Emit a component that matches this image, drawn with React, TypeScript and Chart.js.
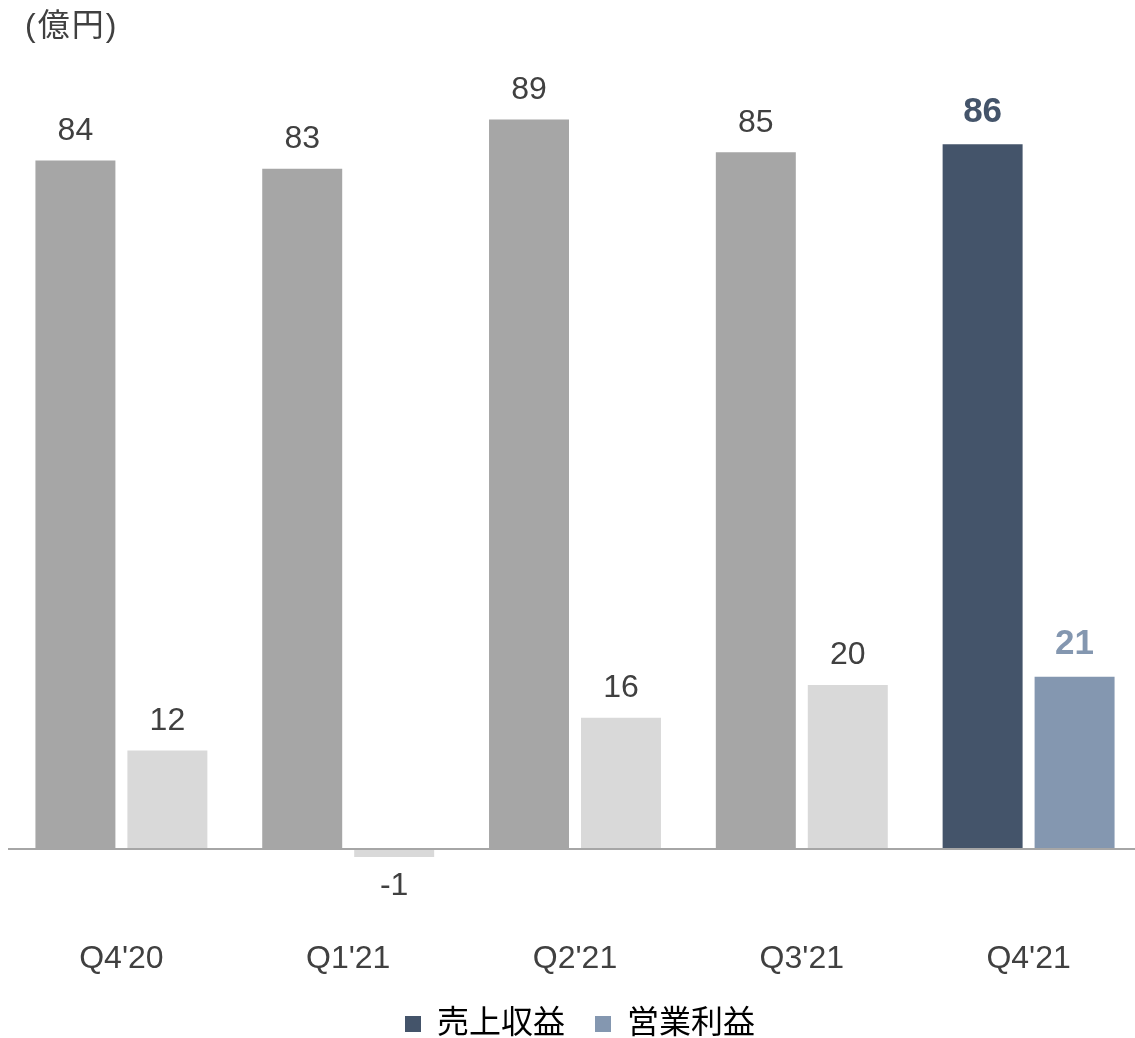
import { useEffect, useRef } from "react";
import { Chart, registerables } from "chart.js";

Chart.register(...registerables);

const categories = ["Q4'20", "Q1'21", "Q2'21", "Q3'21", "Q4'21"];
const revenue = [84, 83, 89, 85, 86];
const operatingProfit = [12, -1, 16, 20, 21];
const seriesNames = ["売上収益", "営業利益"];
const unitLabel = "(億円)";

const FONT = "'Liberation Sans', 'Noto Sans CJK JP', Arial, sans-serif";
const TEXT = "#404040";
const REV_GRAY = "#a6a6a6";
const PROF_GRAY = "#d9d9d9";
const REV_HI = "#44546a";
const PROF_HI = "#8497b0";
const AXIS = "#a6a6a6";

const W = 1152;
const H = 1050;

const hiIndex = categories.length - 1;

const overlayPlugin = {
  id: "overlay",
  afterDatasetsDraw(chart: any) {
    const ctx = chart.ctx;
    const area = chart.chartArea;
    const y0 = chart.scales.y.getPixelForValue(0);
    ctx.save();
    // zero line
    ctx.strokeStyle = AXIS;
    ctx.lineWidth = 2;
    ctx.beginPath();
    ctx.moveTo(area.left, y0);
    ctx.lineTo(area.right, y0);
    ctx.stroke();

    // value labels
    ctx.textAlign = "center";
    ctx.textBaseline = "middle";
    chart.data.datasets.forEach((ds: any, di: number) => {
      const meta = chart.getDatasetMeta(di);
      meta.data.forEach((bar: any, i: number) => {
        const v = ds.data[i];
        const hi = i === hiIndex;
        ctx.font = hi ? `bold 35px ${FONT}` : `32px ${FONT}`;
        ctx.fillStyle = hi ? (di === 0 ? REV_HI : PROF_HI) : TEXT;
        const off = hi ? 32 : 29.5;
        const y = v >= 0 ? bar.y - off : bar.y + off;
        ctx.fillText(String(v), bar.x, y);
      });
    });

    // unit label
    ctx.textAlign = "left";
    ctx.textBaseline = "alphabetic";
    ctx.font = `32px ${FONT}`;
    (ctx as any).letterSpacing = "2px";
    ctx.fillStyle = TEXT;
    ctx.fillText(unitLabel, 25, 36);
    ctx.restore();
  },
};

export default function App() {
  const ref = useRef<HTMLCanvasElement>(null);
  useEffect(() => {
    const canvas = ref.current!;
    const chart = new Chart(canvas, {
      type: "bar",
      data: {
        labels: categories,
        datasets: [
          {
            label: seriesNames[0],
            data: revenue,
            backgroundColor: categories.map((_, i) => (i === hiIndex ? REV_HI : REV_GRAY)),
            categoryPercentage: 0.811,
            barPercentage: 0.8696,
          },
          {
            label: seriesNames[1],
            data: operatingProfit,
            backgroundColor: categories.map((_, i) => (i === hiIndex ? PROF_HI : PROF_GRAY)),
            categoryPercentage: 0.811,
            barPercentage: 0.8696,
          },
        ],
      },
      options: {
        responsive: false,
        animation: false,
        devicePixelRatio: 1,
        layout: { padding: { top: 30, left: 8, right: 0, bottom: 0 } },
        scales: {
          x: {
            grid: { display: false, drawTicks: false },
            border: { display: false },
            ticks: {
              color: TEXT,
              font: { family: FONT, size: 32 },
              padding: 0,
              maxRotation: 0,
            },
          },
          y: {
            position: "right",
            min: -11.07,
            max: 99.93,
            grid: { display: false, drawTicks: false },
            border: { display: false },
            ticks: { display: false },
            afterFit: (s: any) => {
              s.width = 10;
            },
          },
        },
        plugins: {
          tooltip: { enabled: false },
          legend: {
            position: "bottom",
            labels: {
              color: TEXT,
              font: { family: FONT, size: 32 },
              boxWidth: 16,
              boxHeight: 16,
              padding: 30,
              generateLabels: () =>
                seriesNames.map((name, i) => ({
                  text: name,
                  fillStyle: i === 0 ? REV_HI : PROF_HI,
                  strokeStyle: i === 0 ? REV_HI : PROF_HI,
                  lineWidth: 0,
                  hidden: false,
                  datasetIndex: i,
                })),
            },
          },
        },
      },
      plugins: [overlayPlugin],
    } as any);
    return () => chart.destroy();
  }, []);
  return (
    <div
      style={{
        position: "absolute",
        left: 0,
        top: 0,
        width: 1135,
        height: 1038,
        overflow: "hidden",
        background: "#fff",
      }}
    >
      <div style={{ width: W, height: H }}>
        <canvas ref={ref} width={W} height={H} style={{ display: "block" }} />
      </div>
    </div>
  );
}
